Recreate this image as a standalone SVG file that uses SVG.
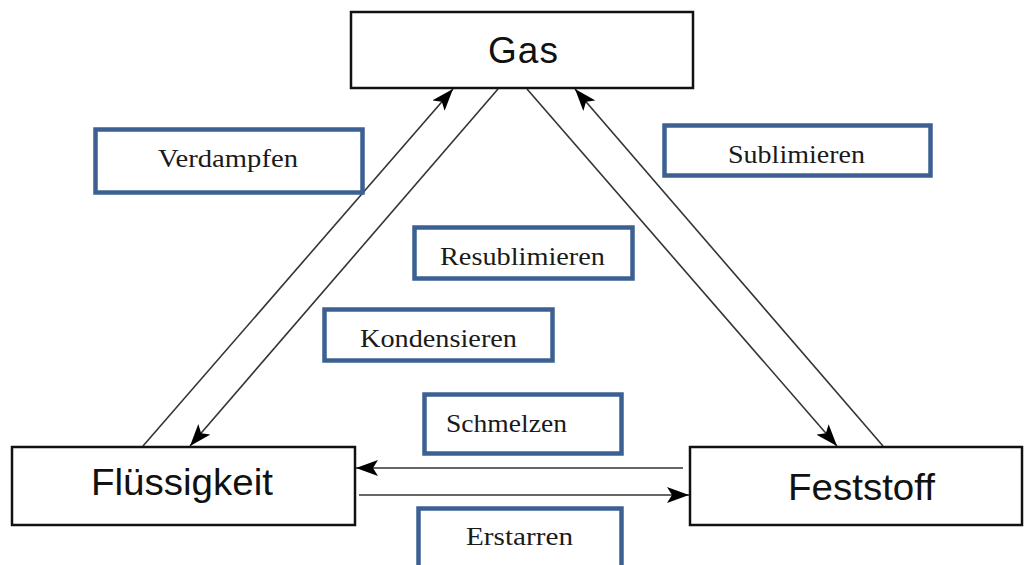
<svg xmlns="http://www.w3.org/2000/svg" width="1025" height="565" viewBox="0 0 1025 565">
  <style>
    .state { fill: #ffffff; stroke: #111111; stroke-width: 2.5; }
    .stateText { font-family: "Liberation Sans", Arial, sans-serif; font-size: 37px; fill: #111111; }
    .label { fill: #ffffff; stroke: #3B6091; stroke-width: 4.5; }
    .labelText { font-family: "Liberation Serif", "Times New Roman", serif; font-size: 25.5px; fill: #1a1a1a; }
    .conn { stroke: #333333; stroke-width: 1.6; fill: none; }
  </style>
  <defs>
    <marker id="arrow" viewBox="0 0 22 16" refX="22" refY="8" markerWidth="22" markerHeight="16" markerUnits="userSpaceOnUse" orient="auto">
      <path d="M0,0 L22,8 L0,16 L5,8 z" fill="#000000"/>
    </marker>
  </defs>
  <rect width="1025" height="565" fill="#ffffff"/>

  <g id="connectors">
    <line class="conn" x1="143" y1="446" x2="453" y2="89" marker-end="url(#arrow)"/>
    <line class="conn" x1="498" y1="89" x2="190" y2="446" marker-end="url(#arrow)"/>
    <line class="conn" x1="527" y1="89" x2="837" y2="446" marker-end="url(#arrow)"/>
    <line class="conn" x1="883" y1="446" x2="575" y2="89" marker-end="url(#arrow)"/>
    <line class="conn" x1="683" y1="468" x2="356" y2="468" marker-end="url(#arrow)"/>
    <line class="conn" x1="359" y1="495" x2="689" y2="495" marker-end="url(#arrow)"/>
  </g>

  <g id="gas">
    <rect class="state" x="351" y="12" width="342" height="76"/>
    <text class="stateText" x="488" y="63" textLength="70">Gas</text>
  </g>
  <g id="fluessigkeit">
    <rect class="state" x="12" y="447" width="343" height="78"/>
    <text class="stateText" x="91" y="495" textLength="182" lengthAdjust="spacingAndGlyphs">Flüssigkeit</text>
  </g>
  <g id="feststoff">
    <rect class="state" x="690" y="447" width="332" height="78"/>
    <text class="stateText" x="788" y="500" textLength="147" lengthAdjust="spacingAndGlyphs">Feststoff</text>
  </g>

  <g id="verdampfen">
    <rect class="label" x="95.5" y="129.5" width="267" height="63"/>
    <text class="labelText" x="158" y="167" textLength="140" lengthAdjust="spacingAndGlyphs">Verdampfen</text>
  </g>
  <g id="sublimieren">
    <rect class="label" x="664.5" y="125.5" width="266" height="50"/>
    <text class="labelText" x="728" y="163" textLength="137" lengthAdjust="spacingAndGlyphs">Sublimieren</text>
  </g>
  <g id="resublimieren">
    <rect class="label" x="414.5" y="227.5" width="218" height="51"/>
    <text class="labelText" x="440" y="265" textLength="165" lengthAdjust="spacingAndGlyphs">Resublimieren</text>
  </g>
  <g id="kondensieren">
    <rect class="label" x="324.5" y="309.5" width="228" height="51"/>
    <text class="labelText" x="360" y="347" textLength="157" lengthAdjust="spacingAndGlyphs">Kondensieren</text>
  </g>
  <g id="schmelzen">
    <rect class="label" x="424.5" y="394.5" width="197" height="59"/>
    <text class="labelText" x="446" y="432" textLength="121" lengthAdjust="spacingAndGlyphs">Schmelzen</text>
  </g>
  <g id="erstarren">
    <rect class="label" x="418.5" y="508.5" width="203" height="70"/>
    <text class="labelText" x="466" y="545" textLength="107" lengthAdjust="spacingAndGlyphs">Erstarren</text>
  </g>
</svg>
